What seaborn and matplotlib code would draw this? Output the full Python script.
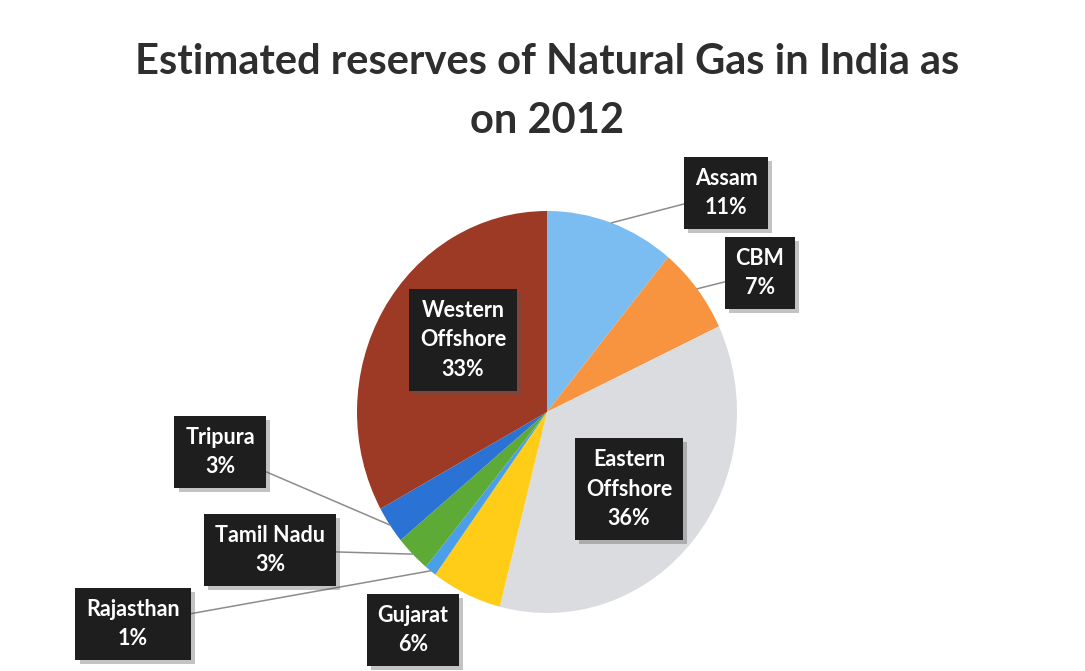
import matplotlib
matplotlib.use("Agg")
import matplotlib.pyplot as plt
import matplotlib.patheffects as pe
import numpy as np
import seaborn as sns

# Natural gas reserves by region (share of total, %)
regions = ["Assam", "CBM", "Eastern\nOffshore", "Gujarat", "Rajasthan",
           "Tamil Nadu", "Tripura", "Western\nOffshore"]
shares = [11, 7, 36, 6, 1, 3, 3, 33]
slice_colors = ["#7BBDF1", "#F8943F", "#DBDCE0", "#FFCC17",
                "#4A9FE8", "#5DAA36", "#2B72D5", "#9C3A25"]
title_text = "Estimated reserves of Natural Gas in India as\non 2012"

sns.set_theme(style="white")
plt.rcParams["font.family"] = ["Lato", "DejaVu Sans"]

W, H = 1085, 671
fig = plt.figure(figsize=(W / 100, H / 100), dpi=100)
fig.patch.set_facecolor("white")
ax = fig.add_axes([0, 0, 1, 1])

# pixel geometry of the pie (centre and radii in figure pixels)
cx, cy, rx, ry = 547, 412, 190, 201


def to_data(px, py):
    return (px - cx) / rx, (cy - py) / ry


wedges, _ = ax.pie(shares, colors=sns.color_palette(slice_colors),
                   startangle=90, counterclock=False,
                   wedgeprops=dict(linewidth=0))
ax.set_aspect("auto")
ax.set_xlim(-cx / rx, (W - cx) / rx)
ax.set_ylim(-(H - cy) / ry, cy / ry)
ax.axis("off")

# label box centres (figure pixels) and whether a leader line is drawn
label_pos = {
    "Assam": (726, 193, True),
    "CBM": (760, 273, True),
    "Eastern\nOffshore": (629, 489, False),
    "Gujarat": (413, 630, False),
    "Rajasthan": (133, 624, True),
    "Tamil Nadu": (270, 550, True),
    "Tripura": (220, 452, True),
    "Western\nOffshore": (463, 340, False),
}

for w, name, val in zip(wedges, regions, shares):
    px, py, leader = label_pos[name]
    tx, ty = to_data(px, py)
    mid = np.deg2rad((w.theta1 + w.theta2) / 2)
    ex, ey = np.cos(mid), np.sin(mid)
    text = f"{name}\n{val}%"
    arrow = None
    if leader:
        arrow = dict(arrowstyle="-", color="#8C8C8C", lw=1.1,
                     shrinkA=0, shrinkB=0)
    ann = ax.annotate(text, xy=(ex, ey), xytext=(tx, ty),
                      ha="center", va="center", fontsize=15.5,
                      fontweight="bold", color="white", linespacing=1.5,
                      arrowprops=arrow, annotation_clip=False,
                      bbox=dict(boxstyle="square,pad=0.5",
                                facecolor="#1E1E1E", edgecolor="none"))
    ann.get_bbox_patch().set_path_effects(
        [pe.SimplePatchShadow(offset=(3, -3), shadow_rgbFace="#555555",
                              alpha=0.35), pe.Normal()])

fig.text(547 / W, 1 - 43 / H, title_text, ha="center", va="top",
         fontsize=30, fontweight="bold", color="#2E2E2E", linespacing=1.68)

fig.savefig("out.png", dpi=100, facecolor="white")
